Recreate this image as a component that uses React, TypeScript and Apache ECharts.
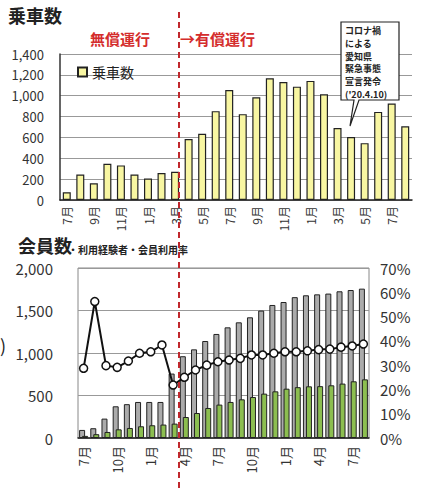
import React, { useEffect, useRef } from "react";
import * as echarts from "echarts";

const months = ["7月","8月","9月","10月","11月","12月","1月","2月","3月","4月","5月","6月","7月","8月","9月","10月","11月","12月","1月","2月","3月","4月","5月","6月","7月","8月"];
const rides = [75, 245, 160, 348, 332, 245, 206, 258, 271, 584, 635, 852, 1055, 823, 985, 1168, 1132, 1087, 1142, 1013, 690, 603, 545, 845, 926, 706];
const members = [95, 115, 228, 373, 398, 424, 424, 424, 758, 962, 1043, 1141, 1224, 1302, 1361, 1420, 1499, 1565, 1600, 1657, 1679, 1690, 1699, 1726, 1741, 1757];
const experienced = [25, 45, 71, 102, 118, 138, 150, 158, 169, 247, 294, 353, 393, 424, 455, 482, 522, 549, 580, 598, 608, 610, 620, 640, 667, 690];
const rate = [28.7, 56.2, 29.8, 29.1, 31.7, 34.9, 35.5, 38.3, 21.8, 25.0, 28.0, 30.0, 31.4, 32.1, 32.8, 34.2, 34.2, 34.9, 35.5, 35.5, 35.9, 36.4, 36.6, 37.4, 37.9, 38.7];
const calloutLines = ["コロナ禍", "による", "愛知県", "緊急事態", "宣言発令", "('20.4.10)"];

const FONT = "'Noto Sans CJK JP', 'Noto Sans', sans-serif";

export default function App() {
  const ref = useRef<HTMLDivElement>(null);
  useEffect(() => {
    if (!ref.current) return;
    const chart = echarts.init(ref.current, undefined, { renderer: "svg" });
    const comma = (v: number) => v.toLocaleString("en-US");
    const option: any = {
      animation: false,
      backgroundColor: "#ffffff",
      textStyle: { fontFamily: FONT },
      legend: {
        data: ["乗車数"],
        left: 72,
        top: 60,
        icon: "rect",
        itemWidth: 9,
        itemHeight: 9,
        itemGap: 4,
        textStyle: { fontSize: 14, color: "#222", fontFamily: FONT },
      },
      grid: [
        { left: 60, top: 54, width: 352, height: 146 },
        { left: 78, top: 268, width: 291, height: 170, show: true, borderColor: "#888", borderWidth: 1, backgroundColor: "transparent" },
      ],
      xAxis: [
        {
          type: "category", gridIndex: 0, data: months,
          axisLine: { lineStyle: { color: "#222", width: 1.5 } },
          axisTick: { show: false },
          axisLabel: { rotate: 90, interval: 1, fontSize: 12, color: "#333", margin: 6, fontFamily: FONT },
        },
        {
          type: "category", gridIndex: 1, data: months,
          axisLine: { lineStyle: { color: "#222", width: 1.5 } },
          axisTick: { show: false },
          axisLabel: { rotate: 90, interval: 2, fontSize: 13, color: "#333", margin: 8, fontFamily: FONT },
        },
      ],
      yAxis: [
        {
          type: "value", gridIndex: 0, min: 0, max: 1400, interval: 200,
          axisLine: { show: true, lineStyle: { color: "#333", width: 1.5 } },
          axisTick: { show: false },
          splitLine: { lineStyle: { color: "#999" } },
          axisLabel: { fontSize: 13, color: "#333", margin: 16, formatter: comma, fontFamily: FONT },
        },
        {
          type: "value", gridIndex: 1, min: 0, max: 2000, interval: 500,
          axisLine: { show: false },
          axisTick: { show: false },
          splitLine: { lineStyle: { color: "#999" } },
          axisLabel: { fontSize: 15, color: "#333", margin: 25, formatter: comma, fontFamily: FONT },
        },
        {
          type: "value", gridIndex: 1, position: "right", min: 0, max: 70, interval: 10,
          axisLine: { show: false },
          axisTick: { show: false },
          splitLine: { show: false },
          axisLabel: { fontSize: 15, color: "#333", margin: 11, formatter: "{value}%", fontFamily: FONT },
        },
      ],
      series: [
        {
          name: "乗車数", type: "bar", xAxisIndex: 0, yAxisIndex: 0, data: rides,
          barWidth: 8,
          itemStyle: { color: "#F8F6A2", borderColor: "#222", borderWidth: 1.2 },
        },
        {
          name: "会員数", type: "bar", xAxisIndex: 1, yAxisIndex: 1, data: members,
          barWidth: 6, barGap: "-50%",
          itemStyle: { color: "#ABABAB", borderColor: "#222", borderWidth: 1 },
        },
        {
          name: "利用経験者", type: "bar", xAxisIndex: 1, yAxisIndex: 1, data: experienced,
          barWidth: 6, barGap: "-50%",
          itemStyle: { color: "#8CBE50", borderColor: "#222", borderWidth: 1 },
        },
        {
          name: "会員利用率", type: "line", xAxisIndex: 1, yAxisIndex: 2, data: rate,
          z: 5,
          symbol: "circle", symbolSize: 8, showAllSymbol: true,
          lineStyle: { color: "#111", width: 2 },
          itemStyle: { color: "#fff", borderColor: "#111", borderWidth: 1.5 },
        },
      ],
      graphic: [
        { type: "text", left: 8, top: 6, style: { text: "乗車数", font: `bold 18px ${FONT}`, fill: "#222" } },
        { type: "text", left: 90, top: 31, style: { text: "無償運行", font: `bold 15px ${FONT}`, fill: "#D42C2C" } },
        { type: "text", left: 180, top: 31, style: { text: "→有償運行", font: `bold 15px ${FONT}`, fill: "#D42C2C" } },
        {
          type: "polygon", z: 20,
          shape: { points: [[341, 22], [399, 22], [399, 100], [359, 100], [350, 126], [354, 100], [341, 100]] },
          style: { fill: "#fff", stroke: "#222", lineWidth: 1.2 },
        },
        {
          type: "text", z: 21, left: 345, top: 24,
          style: { text: calloutLines.join("\n"), font: `bold 9px ${FONT}`, lineHeight: 12.8, fill: "#222" },
        },
        { type: "text", left: 18, top: 236, style: { text: "会員数", font: `bold 18px ${FONT}`, fill: "#222" } },
        { type: "text", left: 68, top: 244, style: { text: "・利用経験者・会員利用率", font: `bold 10px ${FONT}`, fill: "#222" } },
        { type: "text", left: 0, top: 336, style: { text: ")", font: `18px ${FONT}`, fill: "#222" } },
        {
          type: "line", z: 30,
          shape: { x1: 179, y1: 12, x2: 179, y2: 492 },
          style: { stroke: "#C0282D", lineWidth: 2, lineDash: [6, 4] },
        },
      ],
    };
    chart.setOption(option);
    return () => chart.dispose();
  }, []);
  return (
    <div
      ref={ref}
      style={{ position: "absolute", left: 0, top: 0, width: 422, height: 495, background: "#fff" }}
    />
  );
}
